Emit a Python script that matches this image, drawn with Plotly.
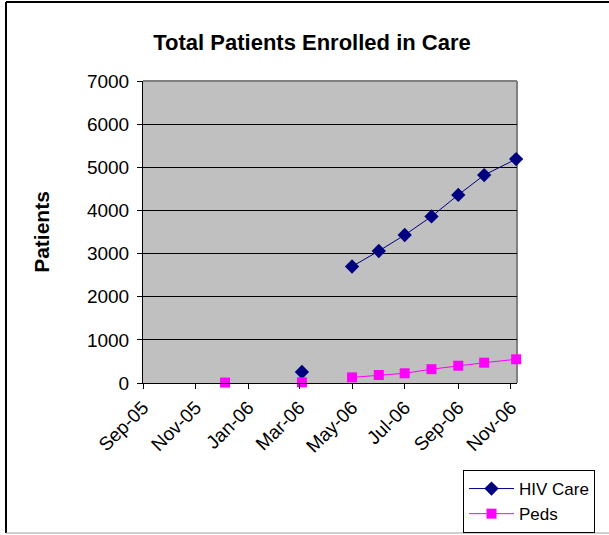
import plotly.graph_objects as go

# data (blank rows break the lines)
dates = ["2005-12-05", "2006-01-15", "2006-03-04", "2006-04-01", "2006-05-01",
         "2006-06-01", "2006-07-01", "2006-08-01", "2006-09-01", "2006-10-01",
         "2006-11-07"]
hiv_care = [None, None, 255, None, 2700, 3060, 3430, 3860, 4360, 4820, 5190]
peds = [10, None, 15, None, 130, 185, 225, 320, 400, 470, 550]

tick_dates = ["2005-09-01", "2005-11-01", "2006-01-01", "2006-03-01", "2006-05-01",
              "2006-07-01", "2006-09-01", "2006-11-01"]
y_ticks = [0, 1000, 2000, 3000, 4000, 5000, 6000, 7000]

W, H = 609, 535
L, R, T, B = 143, 517, 81, 383
FONT = "Liberation Sans, Arial, sans-serif"


def px(x):
    return (x - L) / (R - L)


def py(y):
    return (B - y) / (B - T)


fig = go.Figure()
fig.add_trace(go.Scatter(
    x=dates, y=hiv_care, name="HIV Care", mode="lines+markers",
    line=dict(color="#000080", width=1),
    marker=dict(symbol="diamond", size=11, color="#000080"),
    connectgaps=False, cliponaxis=False,
))
fig.add_trace(go.Scatter(
    x=dates, y=peds, name="Peds", mode="lines+markers",
    line=dict(color="#FF00FF", width=1),
    marker=dict(symbol="square", size=10, color="#FF00FF"),
    connectgaps=False, cliponaxis=False,
))

shapes = [
    # chart border
    dict(type="line", xref="paper", yref="paper", x0=px(6), x1=px(612), y0=py(2), y1=py(2),
         line=dict(color="black", width=2), layer="below"),
    dict(type="line", xref="paper", yref="paper", x0=px(6), x1=px(6), y0=py(2), y1=py(533),
         line=dict(color="black", width=2), layer="below"),
    dict(type="line", xref="paper", yref="paper", x0=px(6), x1=px(612), y0=py(533), y1=py(533),
         line=dict(color="#A0A0A0", width=1), layer="below"),
    # plot area frame
    dict(type="line", xref="paper", yref="paper", x0=0, x1=1, y0=1, y1=1,
         line=dict(color="#808080", width=2), layer="below"),
    dict(type="line", xref="paper", yref="paper", x0=1, x1=1, y0=0, y1=1,
         line=dict(color="#808080", width=2), layer="below"),
]

fig.update_layout(
    width=W, height=H,
    margin=dict(l=L, r=W - R, t=T, b=H - B, autoexpand=False),
    paper_bgcolor="white",
    plot_bgcolor="#C0C0C0",
    font=dict(family=FONT, size=19, color="black"),
    title=dict(text="<b>Total Patients Enrolled in Care</b>", x=312 / W, xanchor="center",
               y=1 - 42 / H, yanchor="middle", font=dict(size=22)),
    xaxis=dict(
        type="date", range=["2005-09-01", "2006-11-08"],
        tickvals=tick_dates, tickformat="%b-%y", tickangle=-45,
        showgrid=False, zeroline=False, automargin=False,
        showline=True, linecolor="black", linewidth=1,
        ticks="outside", ticklen=5, tickcolor="black",
    ),
    yaxis=dict(
        range=[0, 7000], tickvals=y_ticks, automargin=False,
        showgrid=True, gridcolor="black", gridwidth=1, zeroline=False,
        showline=True, linecolor="black", linewidth=1,
        ticks="outside", ticklen=5, tickcolor="black", ticklabelstandoff=4,
        title=dict(text="<b>Patients</b>", font=dict(size=21), standoff=31),
    ),
    legend=dict(
        x=px(463), y=py(470), xanchor="left", yanchor="top",
        bordercolor="black", borderwidth=1, bgcolor="white",
        font=dict(size=17), tracegroupgap=0, itemwidth=45,
    ),
    shapes=shapes,
)

# drop the page's default body margin so the chart sits at the window corner
fig.write_html("out.html", config={"displayModeBar": False},
               post_script="document.body.style.margin = '0';")
